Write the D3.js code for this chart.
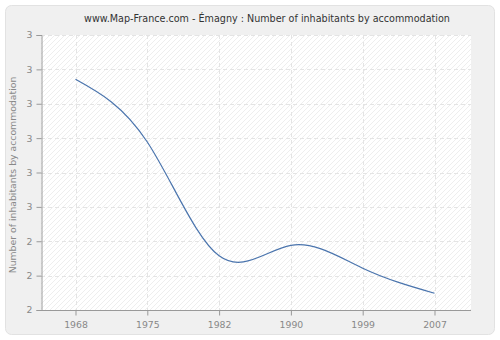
<!DOCTYPE html>
<html>
<head>
<meta charset="utf-8">
<script src="https://cdn.jsdelivr.net/npm/d3@7"></script>
<style>
  html, body { margin: 0; padding: 0; background: #ffffff; }
  svg { display: block; }
  text { font-family: "DejaVu Sans", Verdana, sans-serif; }
</style>
</head>
<body>
<svg id="chart" width="500" height="340"></svg>
<script>
// Census years and average number of inhabitants per dwelling
const years = ["1968", "1975", "1982", "1990", "1999", "2007"];
const inhabitants = [2.839, 2.611, 2.197, 2.235, 2.152, 2.061];
// Y ticks every 1/8 between 2 and 3, with their printed (rounded) labels
const yTicks = [2, 2.125, 2.25, 2.375, 2.5, 2.625, 2.75, 2.875, 3];
const yTickLabels = ["2", "2", "2", "3", "3", "3", "3", "3", "3"];

const svg = d3.select("#chart");
const W = 500, H = 340;
const plot = { left: 41, right: 471, top: 35, bottom: 310 };

// Outer panel
svg.append("rect")
  .attr("x", 5.5).attr("y", 5.5)
  .attr("width", W - 11).attr("height", H - 11)
  .attr("rx", 6).attr("ry", 6)
  .attr("fill", "#f0f0f0")
  .attr("stroke", "#e2e2e2");

// Hatched plot background
const defs = svg.append("defs");
const pat = defs.append("pattern")
  .attr("id", "hatch")
  .attr("patternUnits", "userSpaceOnUse")
  .attr("width", 5).attr("height", 5);
pat.append("rect").attr("width", 5).attr("height", 5).attr("fill", "#ffffff");
pat.append("path")
  .attr("d", "M0,5 L5,0 M-1,1 L1,-1 M4,6 L6,4")
  .attr("stroke", "#eeeeee").attr("stroke-width", 1);

svg.append("rect")
  .attr("x", plot.left).attr("y", plot.top)
  .attr("width", plot.right - plot.left).attr("height", plot.bottom - plot.top)
  .attr("fill", "url(#hatch)");

const x = d3.scalePoint().domain(years).range([75.5, 434.5]);
const y = d3.scaleLinear().domain([2, 3]).range([plot.bottom, plot.top]);

// Grid lines
const grid = svg.append("g")
  .attr("stroke", "#e4e4e4")
  .attr("stroke-dasharray", "4,3")
  .attr("fill", "none");
grid.selectAll("line.h").data(yTicks.slice(1)).join("line")
  .attr("class", "h")
  .attr("x1", plot.left).attr("x2", plot.right)
  .attr("y1", d => Math.round(y(d)) + 0.5).attr("y2", d => Math.round(y(d)) + 0.5);
grid.selectAll("line.v").data(years).join("line")
  .attr("class", "v")
  .attr("x1", d => Math.round(x(d)) + 0.5).attr("x2", d => Math.round(x(d)) + 0.5)
  .attr("y1", plot.top).attr("y2", plot.bottom);

// Axes
const yAxis = d3.axisLeft(y)
  .tickValues(yTicks)
  .tickFormat((d, i) => yTickLabels[i])
  .tickSize(5).tickPadding(4);
const gy = svg.append("g")
  .attr("transform", `translate(${plot.left + 0.5},0)`)
  .call(yAxis);

const xAxis = d3.axisBottom(x).tickSize(5).tickPadding(6);
const gx = svg.append("g")
  .attr("transform", `translate(0,${plot.bottom + 0.5})`)
  .call(xAxis);

[gx, gy].forEach(g => {
  g.select(".domain").attr("stroke", "#999999");
  g.selectAll(".tick line").attr("stroke", "#999999");
  g.selectAll(".tick text")
    .attr("fill", "#888888")
    .style("font-family", "\"DejaVu Sans\", Verdana, sans-serif")
    .style("font-size", "9.3px");
});
gx.select(".domain").attr("d", `M${plot.left},0H${plot.right}`);

// Series line
const line = d3.line()
  .x((d, i) => x(years[i]))
  .y(d => y(d))
  .curve(d3.curveNatural);
svg.append("path")
  .datum(inhabitants)
  .attr("d", line)
  .attr("fill", "none")
  .attr("stroke", "#4a74ad")
  .attr("stroke-width", 1.2);

// Title
svg.append("text")
  .attr("x", 267).attr("y", 22)
  .attr("text-anchor", "middle")
  .attr("fill", "#333333")
  .style("font-size", "9.6px")
  .text("www.Map-France.com - Émagny : Number of inhabitants by accommodation");

// Y axis title
svg.append("text")
  .attr("transform", "translate(16,175) rotate(-90)")
  .attr("text-anchor", "middle")
  .attr("fill", "#888888")
  .style("font-size", "9.3px")
  .text("Number of inhabitants by accommodation");
</script>
</body>
</html>
